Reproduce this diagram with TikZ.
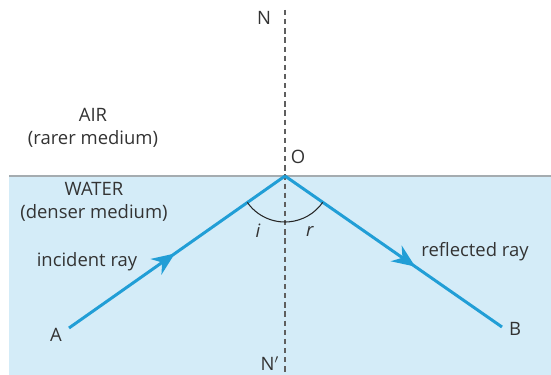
\documentclass[tikz,border=0pt]{standalone}
\usepackage{fontspec}
\setmainfont{Open Sans}
\usepackage{tikz}
\usetikzlibrary{arrows.meta,decorations.markings}
\definecolor{waterblue}{RGB}{212,236,248}
\definecolor{raycol}{RGB}{33,158,214}
\definecolor{surfgray}{RGB}{165,172,176}
\definecolor{normalgray}{RGB}{95,95,95}
\tikzset{
  lbl/.style={font=\fontsize{10.5}{13}\selectfont, text=black!80, inner sep=1pt, align=center},
  ray/.style={draw=raycol, line width=1.7pt},
  midarrow/.style={postaction={decorate}, decoration={markings,
      mark=at position #1 with {\arrow{Stealth[length=4.6mm,width=3.8mm]}}}},
  normalline/.style={draw=normalgray, line width=0.8pt, dash pattern=on 3pt off 2.2pt}
}

\begin{document}
\begin{tikzpicture}[x=0.02cm, y=-0.02cm]
        \useasboundingbox (0,0) rectangle (551,375);
        % water
        \fill[waterblue] (9,176) rectangle (551,375);
        \draw[surfgray, line width=0.8pt] (9,176) -- (551,176);
        % normal
        \coordinate (Ntop) at (285,10);
        \coordinate (Nbot) at (285,375);
        \draw[normalline] (Ntop) -- (Nbot);
        \node[lbl] (N)  at (264,18)  {N};
        \node[lbl] (Np) at (270,364) {N$'$};
        % point of incidence
        \coordinate (O) at (285,176);
        \node[lbl] (Olab) at (298,157) {O};
        % media
        \node[lbl] (air)   at (93,128) {AIR\\(rarer medium)};
        \node[lbl] (water) at (94,202)  {WATER\\(denser medium)};
        % rays
        \coordinate (Ap) at (69,328);
        \coordinate (Bp) at (502,327);
        \node[lbl] (A) at (56,335)  {A};
        \node[lbl] (B) at (515,329) {B};
        \draw[ray, midarrow=0.49] (Ap) -- (O);
        \draw[ray, midarrow=0.6]  (O) -- (Bp);
        \node[lbl] (inc) at (87,262)  {incident ray};
        \node[lbl] (ref) at (475,252) {reflected ray};
        % angles
        \draw[black!85, line width=0.6pt] (O) ++(145:46) arc (145:35:46);
        \node[lbl] (i) at (258,231) {\textit{i}};
        \node[lbl] (r) at (310,231) {\textit{r}};
      \end{tikzpicture}
\end{document}
